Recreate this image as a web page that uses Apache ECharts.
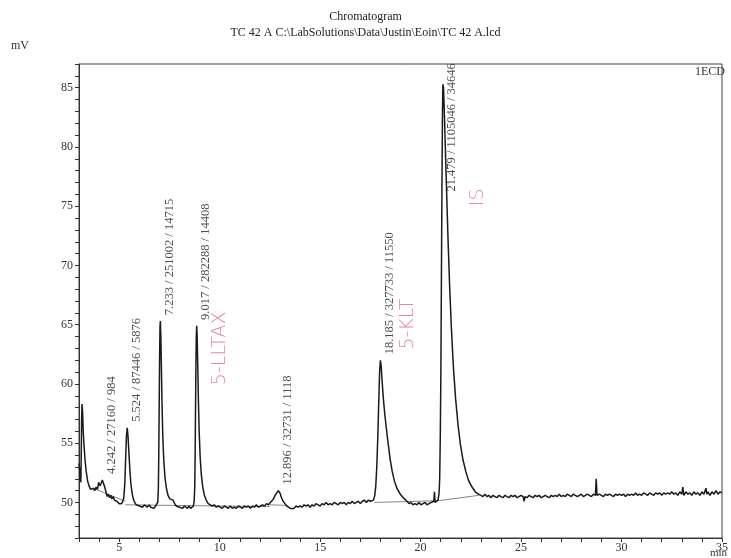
<!DOCTYPE html>
<html><head><meta charset="utf-8">
<script src="https://cdn.jsdelivr.net/npm/echarts@6/dist/echarts.min.js"></script>
<style>html,body{margin:0;padding:0;background:#fff}#c{width:731px;height:558px}</style>
</head><body><div id="c"></div>
<script>
// ---------- data ----------
const titleLines = ['Chromatogram', 'TC 42 A C:\\LabSolutions\\Data\\Justin\\Eoin\\TC 42 A.lcd'];
const yTickLabels = [50, 55, 60, 65, 70, 75, 80, 85];
const xTickLabels = [5, 10, 15, 20, 25, 30, 35];
const detectorName = '1ECD';
const yUnit = 'mV';
const xUnit = 'min';

// detector trace [time (min), signal (mV)]
const trace = [
[3.00,53.3],[3.03,52.8],[3.06,52.0],[3.09,51.7],[3.11,53.8],[3.13,57.0],[3.15,58.3],[3.18,57.6],[3.21,56.0],[3.25,54.8],
[3.30,53.6],[3.36,52.6],[3.43,51.8],[3.50,51.4],[3.58,51.1],[3.66,51.0],[3.72,51.2],[3.78,51.0],[3.85,51.3],[3.92,51.1],
[3.98,51.7],[4.04,51.4],[4.10,51.6],[4.16,51.9],[4.22,51.8],[4.28,51.3],[4.34,50.9],[4.40,50.5],[4.46,50.7],[4.52,50.4],
[4.58,50.6],[4.64,50.3],[4.70,50.5],[4.76,50.2],[4.82,50.3],[4.88,50.1],[4.94,50.2],[5.00,49.9],[5.06,50.0],[5.12,49.9],
[5.18,50.1],[5.23,50.4],[5.28,51.6],[5.32,53.6],[5.36,55.6],[5.40,56.3],[5.44,55.6],[5.48,54.3],[5.53,52.8],[5.58,51.6],
[5.64,50.8],[5.70,50.3],[5.77,50.0],[5.85,49.8],[5.93,49.9],[6.01,49.7],[6.09,49.8],[6.17,49.6],[6.25,49.8],[6.33,49.7],
[6.41,49.6],[6.49,49.8],[6.57,49.6],[6.65,49.7],[6.73,49.5],[6.81,49.7],[6.88,49.6],[6.92,50.0],[6.95,51.2],[6.97,54.0],
[6.99,58.0],[7.01,62.0],[7.03,64.8],[7.05,65.3],[7.07,64.2],[7.10,61.5],[7.13,58.5],[7.17,55.6],[7.22,53.5],[7.28,52.1],
[7.35,51.2],[7.43,50.6],[7.52,50.3],[7.60,50.4],[7.68,50.2],[7.76,49.9],[7.84,49.7],[7.92,49.8],[8.00,49.6],[8.08,49.7],
[8.16,49.5],[8.24,49.7],[8.32,49.6],[8.40,49.5],[8.48,49.7],[8.56,49.5],[8.63,49.6],[8.69,49.7],[8.73,50.1],[8.76,51.3],
[8.78,54.0],[8.80,58.0],[8.82,61.8],[8.84,64.2],[8.86,64.9],[8.88,64.0],[8.91,61.6],[8.94,58.8],[8.98,56.0],[9.03,53.8],
[9.09,52.3],[9.16,51.3],[9.24,50.6],[9.33,50.2],[9.43,49.9],[9.53,49.8],[9.63,49.7],[9.73,49.8],[9.83,49.6],[9.93,49.7],
[10.03,49.6],[10.13,49.5],[10.23,49.7],[10.33,49.6],[10.43,49.5],[10.53,49.7],[10.63,49.5],[10.73,49.6],[10.83,49.5],[10.93,49.7],
[11.03,49.6],[11.13,49.5],[11.23,49.7],[11.33,49.6],[11.43,49.7],[11.53,49.5],[11.63,49.7],[11.73,49.6],[11.83,49.8],[11.93,49.6],
[12.03,49.7],[12.13,49.8],[12.23,49.7],[12.33,49.9],[12.43,49.8],[12.52,50.0],[12.60,50.1],[12.68,50.3],[12.76,50.6],[12.84,50.8],
[12.92,51.0],[13.00,50.8],[13.08,50.4],[13.16,50.1],[13.25,49.9],[13.34,49.7],[13.43,49.6],[13.52,49.5],[13.61,49.6],[13.70,49.5],
[13.80,49.7],[13.90,49.6],[14.00,49.7],[14.10,49.6],[14.20,49.8],[14.30,49.7],[14.40,49.8],[14.50,49.6],[14.60,49.8],[14.70,49.7],
[14.80,49.9],[14.90,49.8],[15.00,49.7],[15.10,49.9],[15.20,49.8],[15.30,50.0],[15.40,49.8],[15.50,49.9],[15.60,49.8],[15.70,50.0],
[15.80,49.9],[15.90,49.8],[16.00,50.0],[16.10,49.9],[16.20,50.0],[16.30,49.8],[16.40,50.0],[16.50,49.9],[16.60,50.1],[16.70,49.9],
[16.80,50.0],[16.90,50.1],[17.00,49.9],[17.10,50.1],[17.20,50.2],[17.30,50.0],[17.40,50.2],[17.50,50.1],[17.58,50.0],[17.66,50.2],
[17.72,50.6],[17.77,51.4],[17.82,53.0],[17.87,55.5],[17.92,58.6],[17.96,61.0],[18.00,62.0],[18.04,61.5],[18.09,60.1],[18.15,58.7],
[18.22,57.4],[18.30,56.2],[18.39,54.9],[18.49,53.6],[18.59,52.6],[18.70,51.8],[18.82,51.2],[18.95,50.8],[19.08,50.5],[19.20,50.3],
[19.32,50.1],[19.42,49.9],[19.52,50.0],[19.62,49.8],[19.72,49.9],[19.82,49.8],[19.92,50.0],[20.02,49.8],[20.12,49.9],[20.22,50.0],
[20.32,49.8],[20.42,49.9],[20.52,50.0],[20.60,49.9],[20.66,50.1],[20.69,50.9],[20.72,50.0],[20.80,49.9],[20.87,50.2],[20.92,50.8],
[20.95,52.0],[20.98,55.5],[21.01,61.0],[21.03,67.0],[21.05,73.0],[21.07,78.5],[21.09,83.0],[21.11,85.3],[21.14,85.0],[21.18,83.0],
[21.23,80.0],[21.29,76.5],[21.36,72.5],[21.44,68.5],[21.53,64.8],[21.63,61.5],[21.74,58.8],[21.86,56.6],[21.98,54.9],[22.11,53.6],
[22.25,52.6],[22.40,51.8],[22.56,51.3],[22.72,50.9],[22.88,50.7],[23.0,50.6],[23.1,50.5],[23.2,50.7],[23.3,50.5],[23.4,50.6],
[23.5,50.4],[23.6,50.6],[23.7,50.5],[23.8,50.4],[23.9,50.6],[24.0,50.5],[24.1,50.4],[24.2,50.6],[24.3,50.5],[24.4,50.4],
[24.5,50.6],[24.6,50.5],[24.7,50.6],[24.8,50.4],[24.9,50.5],[25.0,50.6],[25.1,50.5],[25.15,50.1],[25.2,50.5],[25.3,50.4],
[25.4,50.6],[25.5,50.5],[25.6,50.4],[25.7,50.6],[25.8,50.5],[25.9,50.6],[26.0,50.4],[26.1,50.5],[26.2,50.6],[26.3,50.5],
[26.4,50.4],[26.5,50.6],[26.6,50.5],[26.7,50.6],[26.8,50.5],[26.9,50.7],[27.0,50.5],[27.1,50.6],[27.2,50.5],[27.3,50.7],
[27.4,50.6],[27.5,50.5],[27.6,50.7],[27.7,50.6],[27.8,50.5],[27.9,50.6],[28.0,50.7],[28.1,50.5],[28.2,50.6],[28.3,50.7],
[28.4,50.6],[28.5,50.5],[28.6,50.7],[28.7,50.6],[28.74,52.0],[28.78,50.6],[28.9,50.7],[29.0,50.6],[29.1,50.5],[29.2,50.7],
[29.3,50.6],[29.4,50.7],[29.5,50.6],[29.6,50.5],[29.7,50.7],[29.8,50.6],[29.9,50.7],[30.0,50.6],[30.1,50.7],[30.2,50.5],
[30.3,50.7],[30.4,50.6],[30.5,50.7],[30.6,50.6],[30.7,50.8],[30.8,50.6],[30.9,50.7],[31.0,50.6],[31.1,50.8],[31.2,50.7],
[31.3,50.6],[31.4,50.8],[31.5,50.7],[31.6,50.6],[31.7,50.8],[31.8,50.7],[31.9,50.8],[32.0,50.6],[32.1,50.8],[32.2,50.7],
[32.3,50.8],[32.4,50.7],[32.5,50.9],[32.6,50.7],[32.7,50.8],[32.8,50.6],[32.9,50.9],[33.0,50.7],[33.05,51.3],[33.1,50.6],
[33.2,50.9],[33.3,50.7],[33.4,50.8],[33.5,50.6],[33.6,50.9],[33.7,50.7],[33.8,50.8],[33.9,50.6],[34.0,50.9],[34.1,50.7],
[34.2,51.2],[34.25,50.7],[34.3,50.9],[34.4,50.6],[34.5,50.9],[34.6,50.7],[34.7,51.0],[34.8,50.7],[34.9,50.9],[35.0,50.8]
];

// integration baselines drawn by the software
const baselineSegments = [
  [[3.71, 51.2], [5.30, 50.1]],
  [[5.30, 49.8], [12.50, 49.65]],
  [[12.50, 49.8], [13.40, 49.75]],
  [[17.70, 50.0], [20.90, 50.15]],
  [[20.90, 50.15], [22.90, 50.6]]
];

// peak annotations: "RT / area / height"
const peakLabels = [
  '4.242 / 27160 / 984',
  '5.524 / 87446 / 5876',
  '7.233 / 251002 / 14715',
  '9.017 / 282288 / 14408',
  '12.896 / 32731 / 1118',
  '18.185 / 327733 / 11550',
  '21.479 / 1105046 / 34646'
];
const peakApexTime = [4.16, 5.40, 7.05, 8.86, 12.92, 18.00, 21.11];
const peakApexMv   = [51.9, 56.3, 65.3, 64.9, 51.0, 62.0, 85.3];

// handwritten notes on the print
const noteTexts = ['5-LLTAX', '5-KLT', 'IS'];
const noteTime  = [10.0, 19.4, 22.85];
const noteMv    = [59.9, 62.9, 75.0];

// ---------- chart ----------
const serif = 'Liberation Serif, Times New Roman, serif';
const chart = echarts.init(document.getElementById('c'), null, {renderer: 'canvas'});

const baselineSeries = baselineSegments.map(seg => ({
  type: 'line', data: seg, showSymbol: false, silent: true, z: 1,
  lineStyle: {color: '#666', width: 0.8}
}));

chart.setOption({
  animation: false,
  backgroundColor: '#ffffff',
  title: {
    text: titleLines.join('\n'), left: 'center', top: 4,
    textStyle: {fontFamily: serif, fontSize: 12, fontWeight: 'normal', color: '#222', lineHeight: 16}
  },
  grid: {left: 79, right: 4, top: 64, bottom: 20, show: true, borderColor: '#444', borderWidth: 1, containLabel: false},
  xAxis: {
    type: 'value', min: 3, max: 35, interval: 1,
    axisLine: {show: true, onZero: false, lineStyle: {color: '#333', width: 1}},
    axisTick: {show: true, length: 4, lineStyle: {color: '#333'}},
    splitLine: {show: false},
    axisLabel: {
      fontFamily: serif, fontSize: 12, color: '#333', margin: 4,
      formatter: v => xTickLabels.includes(v) ? String(v) : ''
    }
  },
  yAxis: {
    type: 'value', min: 47, max: 87, interval: 1,
    axisLine: {show: true, lineStyle: {color: '#333', width: 1}},
    axisTick: {show: true, length: 4, lineStyle: {color: '#333'}},
    splitLine: {show: false},
    axisLabel: {
      fontFamily: serif, fontSize: 12, color: '#333', margin: 6,
      formatter: v => yTickLabels.includes(v) ? String(v) : ''
    }
  },
  graphic: [
    {type: 'text', left: 11, top: 40, style: {text: yUnit, font: '12px ' + serif, fill: '#333'}},
    {type: 'text', left: 710, top: 548, style: {text: xUnit, font: '11px ' + serif, fill: '#333'}},
    {type: 'text', right: 6, top: 66, style: {text: detectorName, font: '12px ' + serif, fill: '#333'}}
  ],
  series: [
    ...baselineSeries,
    {
      type: 'line', data: trace, showSymbol: false, smooth: false, z: 3, silent: true,
      lineStyle: {color: '#1a1a1a', width: 1.5}
    },
    {
      type: 'scatter', z: 5, silent: true, symbolSize: 1,
      itemStyle: {color: 'rgba(0,0,0,0)'},
      data: peakApexTime.map((t, i) => {
        const d = {value: [t, peakApexMv[i]]};
        if (peakApexMv[i] > 80) d.label = {align: 'right', offset: [21, 9]};
        return d;
      }),
      label: {
        show: true, position: 'inside', rotate: 90, align: 'left', verticalAlign: 'middle',
        offset: [6, 9], fontFamily: serif, fontSize: 12.5, color: '#222',
        formatter: p => peakLabels[p.dataIndex]
      }
    },
    {
      type: 'scatter', z: 6, silent: true, symbolSize: 1,
      itemStyle: {color: 'rgba(0,0,0,0)'},
      data: noteTime.map((t, i) => [t, noteMv[i]]),
      label: {
        show: true, position: 'inside', rotate: 90, align: 'left', verticalAlign: 'middle',
        fontFamily: 'DejaVu Sans', fontSize: 19, fontWeight: 'lighter', color: '#e4649a',
        formatter: p => noteTexts[p.dataIndex]
      }
    }
  ]
});
</script>
</body></html>
